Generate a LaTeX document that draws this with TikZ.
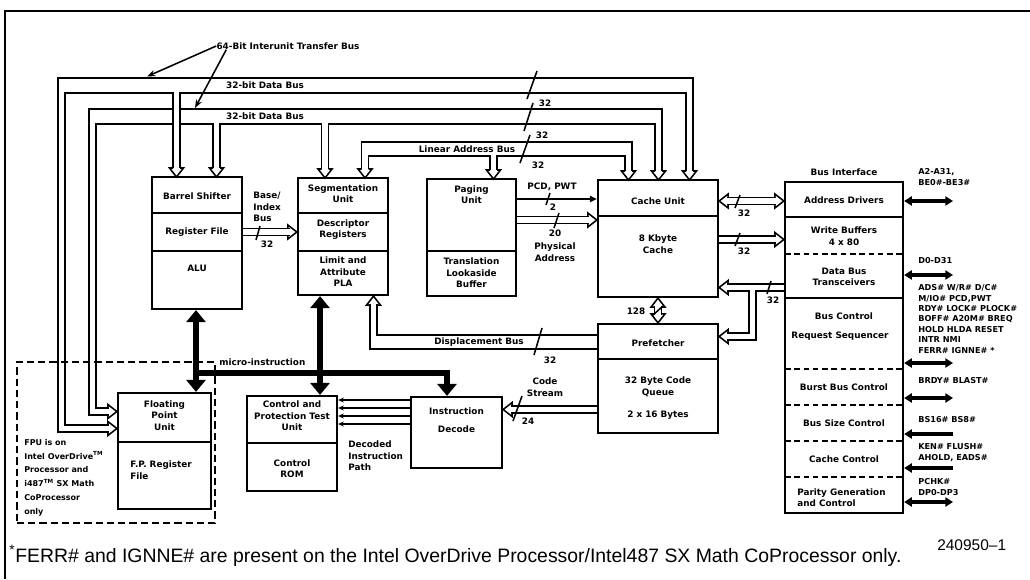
\documentclass[tikz,border=0pt]{standalone}
\usepackage{fontspec}
\setmainfont{Liberation Sans}
\newfontfamily\diagfont{DejaVu Sans}
\usetikzlibrary{arrows.meta,positioning,fit,calc}

\begin{document}
\begin{tikzpicture}[x=0.025cm,y=-0.025cm,
  unit/.style={draw,line width=1.6pt,inner sep=0pt},
  fpuzone/.style={draw,line width=1.5pt,inner sep=0pt,dash pattern=on 5pt off 3pt},
  divider/.style={line width=1.6pt},
  seam/.style={line width=1.3pt,dash pattern=on 4pt off 2.6pt},
  lbl/.style={font=\diagfont\bfseries\fontsize{6.3}{8.2}\selectfont,align=center,inner sep=0pt},
  note/.style={font=\diagfont\bfseries\fontsize{5.7}{9.8}\selectfont,align=left,inner sep=0pt,anchor=west},
  pin/.style={font=\diagfont\bfseries\fontsize{5.8}{7.4}\selectfont,align=left,inner sep=0pt,anchor=west},
  busline/.style={line width=1.1pt},
  hbus/.style={line width=1.1pt,double,double distance=3.86pt},
  htip/.pic={\draw[busline,line join=miter] (-3.5,-9) -- (-7,-9) -- (0,0) -- (7,-9) -- (3.5,-9);},
  sig/.style={line width=1.1pt},
  ubus/.style={line width=4.6pt},
  utip/.tip={Triangle[length=8.5pt,width=13.5pt]},
  pinarrow/.style={line width=2.2pt},
  ptip/.tip={Triangle[length=5.5pt,width=6.5pt]}
]
\useasboundingbox (0,0) rectangle (1030,579);
\draw[line width=1.2pt] (5,579) -- (5,11) -- (1030,11);

% functional units
\node[unit,fit={(152,177)(242,309)}] (alu) {};
\node[unit,fit={(298,178)(388,295)}] (seg) {};
\node[unit,fit={(427,179)(516,296)}] (paging) {};
\node[unit,fit={(598,180)(718,297)}] (cache) {};
\node[unit,fit={(598,324)(718,433)}] (prefetch) {};
\node[unit,fit={(785,182)(903,513)}] (biu) {};
\node[unit,fit={(118,393)(211,509)}] (fpu) {};
\node[unit,fit={(247,396)(337,491)}] (cpt) {};
\node[unit,fit={(411,397)(502,468)}] (decode) {};
\node[fpuzone,fit={(17,362)(215,523)}] (fpuarea) {};

\draw[divider] (152,213) -- (242,213) (152,251) -- (242,251);
\draw[divider] (298,213) -- (388,213) (298,251) -- (388,251);
\draw[divider] (427,251) -- (516,251);
\draw[divider] (598,216) -- (718,216);
\draw[divider] (598,359) -- (718,359);
\draw[divider] (118,442) -- (211,442);
\draw[divider] (247,443) -- (337,443);
\draw[divider] (785,217) -- (903,217) (785,298) -- (903,298);
\foreach \y in {254,369,405,441,477}
  \draw[seam] (785,\y) -- (903,\y);

% unit texts
\node[lbl] (shiftertxt) at (197,196) {Barrel Shifter};
\node[lbl] (regtxt) at (197,232) {Register File};
\node[lbl] (alutxt) at (197,268) {ALU};
\node[lbl] (segtxt) at (343,193.5) {Segmentation\\Unit};
\node[lbl] (desctxt) at (343,229.5) {Descriptor\\Registers};
\node[lbl] (platxt) at (343,272) {Limit and\\Attribute\\PLA};
\node[lbl] (pagingtxt) at (471.5,194.5) {Paging\\Unit};
\node[lbl] (tlbtxt) at (471.5,273) {Translation\\Lookaside\\Buffer};
\node[lbl] (cachetxt) at (658,201) {Cache Unit};
\node[lbl] (kbytetxt) at (658,244) {8 Kbyte\\Cache};
\node[lbl] (prefetchtxt) at (658,343) {Prefetcher};
\node[lbl] (queuetxt) at (658,387) {32 Byte Code\\Queue};
\node[lbl] (bytestxt) at (658,415) {2 x 16 Bytes};
\node[lbl] (biutxt) at (844,172) {Bus Interface};
\node[lbl] (addrtxt) at (844,200) {Address Drivers};
\node[lbl] (wrbuftxt) at (844,236) {Write Buffers\\4 x 80};
\node[lbl] (transtxt) at (844,277) {Data Bus\\Transceivers};
\node[lbl] (busctltxt) at (844,316) {Bus Control};
\node[lbl] (seqtxt) at (840,336) {Request Sequencer};
\node[lbl] (bursttxt) at (844,387) {Burst Bus Control};
\node[lbl] (sizetxt) at (844,423) {Bus Size Control};
\node[lbl] (cachectltxt) at (844,459) {Cache Control};
\node[lbl,align=left,anchor=west] (paritytxt) at (797,497.5) {Parity Generation\\and Control};
\node[lbl] (fputxt) at (164.5,415.5) {Floating\\Point\\Unit};
\node[lbl,align=left,anchor=west] (fpregtxt) at (130,470) {F.P. Register\\File};
\node[lbl] (cpttxt) at (292,416) {Control and\\Protection Test\\Unit};
\node[lbl] (romtxt) at (292,468.5) {Control\\ROM};
\node[lbl] (instrtxt) at (456.5,411) {Instruction};
\node[lbl] (decodetxt) at (456.5,429) {Decode};
\node[note] (fpunote) at (24,477.5) {FPU is on\\Intel OverDrive\textsuperscript{TM}\\Processor and\\i487\textsuperscript{TM} SX Math\\CoProcessor\\only};

% 64-bit interunit transfer bus (two 32-bit data buses)
\draw[busline] (109,432) -- (58,432) -- (58,78) -- (693,78) -- (693,171);
\draw[busline] (109,425) -- (65,425) -- (65,93) -- (686,93) -- (686,171);
\draw[busline] (109,415) -- (89,415) -- (89,109) -- (662,109) -- (662,171);
\draw[busline] (109,408) -- (96,408) -- (96,124) -- (655,124) -- (655,171);
% linear address bus
\draw[busline] (361.5,169) -- (361.5,142) -- (632,142) -- (632,171);
\draw[busline] (368.5,169) -- (368.5,156) -- (625,156) -- (625,171);
\draw[hbus] (176.5,92.2) -- (176.5,168);
\draw[hbus] (216.5,123.2) -- (216.5,168);
\draw[hbus] (325,123.2) -- (325,169);
\draw[hbus] (493.5,155.2) -- (493.5,170);
\foreach \x/\y in {176.5/177,216.5/177,325/178,365/178,493.5/179,628.5/180,658.5/180,689.5/180}
  \pic at (\x,\y) {htip};
\pic[rotate=90] at (fpu.west |- 0,428.5) {htip};
\pic[rotate=90] at (fpu.west |- 0,411.5) {htip};

\node[lbl] (bus64) at (288,46) {64-Bit Interunit Transfer Bus};
\draw[sig,-{Stealth[length=6pt,width=4.5pt]}] (bus64.west) -- (147,76.5);
\draw[sig,-{Stealth[length=6pt,width=4.5pt]}] ($(bus64.south west)+(10,0)$) -- (195,108);
\node[lbl] (databus1) at (265,85.5) {32-bit Data Bus};
\node[lbl] (databus2) at (265,116.5) {32-bit Data Bus};
\node[lbl] (linbus) at (467,149) {Linear Address Bus};
\draw[sig] (537,71) -- (527,99) (533,103) -- (524,131) (530,135) -- (520,163);
\node[lbl] at (545,103) {32};
\node[lbl] at (542,135) {32};
\node[lbl] at (538,165) {32};

% base/index bus
\draw[hbus] (alu.east |- regtxt) -- ++(47,0);
\pic[rotate=90] at (seg.west |- regtxt) {htip};
\draw[sig] (260,226) -- (256,240);
\node[lbl] at (267,244) {32};
\node[lbl,align=left,anchor=west] (basetxt) at (253,207) {Base/\\Index\\Bus};

% paging to cache
\draw[sig,-{Triangle[length=5pt,width=4.5pt]}] (paging.east |- 0,199) -- (cache.west |- 0,199);
\draw[sig] (550,193) -- (546,205);
\node[lbl] at (553,207) {2};
\node[lbl] (pcdtxt) at (552,187) {PCD, PWT};
\draw[hbus] (paging.east |- 0,220) -- (589,220);
\pic[rotate=90] at (cache.west |- 0,220) {htip};
\draw[sig] (559,213) -- (554,228);
\node[lbl] at (555,233) {20};
\node[lbl] (phystxt) at (555,252) {Physical\\Address};

% cache to bus interface
\draw[hbus] (727,201) -- (776,201);
\pic[rotate=-90] at (cache.east |- 0,201) {htip};
\pic[rotate=90] at (biu.west |- 0,201) {htip};
\draw[hbus] (cache.east |- 0,239.5) -- (776,239.5);
\pic[rotate=90] at (biu.west |- 0,239.5) {htip};
\draw[sig] (740,195) -- (735,208) (740,233) -- (735,246);
\node[lbl] at (744,213) {32};
\node[lbl] at (744,251) {32};

% data bus transceivers to cache and prefetcher
\draw[busline] (785,284) -- (727,284);
\draw[busline] (727,291) -- (749,291) -- (749,333) -- (727,333);
\draw[busline] (785,291) -- (756,291) -- (756,340) -- (727,340);
\pic[rotate=-90] at (cache.east |- 0,287.5) {htip};
\pic[rotate=-90] at (prefetch.east |- 0,336.5) {htip};
\draw[sig] (771,281) -- (767,294);
\node[lbl] at (773,300) {32};

% cache to prefetcher
\draw[hbus] (658,306) -- (658,315);
\pic[rotate=180] at (cache.south) {htip};
\pic at (prefetch.north) {htip};
\draw[sig] (663,306) -- (653,315);
\node[lbl] at (636,311) {128};

% displacement bus
\draw[busline] (598,335) -- (377,335) -- (377,304);
\draw[busline] (598,349) -- (370,349) -- (370,304);
\pic[rotate=180] at (seg.south -| 373.5,0) {htip};
\draw[sig] (542,328) -- (534,355);
\node[lbl] (disptxt) at (479,342) {Displacement Bus};
\node[lbl] at (550,360) {32};

% code stream
\draw[hbus] (prefetch.west |- 0,409.5) -- (511,409.5);
\pic[rotate=-90] at (decode.east |- 0,409.5) {htip};
\draw[sig] (522,396) -- (513,421);
\node[lbl] at (528,421) {24};
\node[lbl] (codetxt) at (545,387) {Code\\Stream};

% decoded instruction path
\foreach \y in {400,408,416,424}
  \draw[sig,-{Stealth[length=4pt,width=3.5pt]}] (decode.west |- 0,\y) -- (cpt.east |- 0,\y);
\node[lbl,align=left,anchor=west] (pathtxt) at (348,456) {Decoded\\Instruction\\Path};

% micro-instruction bus
\draw[ubus,{utip}-{utip}] (alu.south -| 196,0) -- (fpu.north -| 196,0);
\draw[ubus,{utip}-{utip}] (seg.south -| 320,0) -- (cpt.north -| 320,0);
\draw[ubus,-{utip}] (196,373) -- (447,373) -- (decode.north -| 447,0);
\node[lbl,anchor=west] (microtxt) at (219,362) {micro-instruction};

% external pins
\foreach \y in {201,275,363,398,502}
  \draw[pinarrow,{ptip}-{ptip}] (biu.east |- 0,\y) -- (953,\y);
\foreach \y in {434,468}
  \draw[pinarrow,{ptip}-] (biu.east |- 0,\y) -- (953,\y);
\node[pin] (addrpins) at (918,177) {A2-A31,\\BE0\#-BE3\#};
\node[pin] (datapins) at (918,261) {D0-D31};
\node[pin] (ctlpins) at (918,319) {ADS\# W/R\# D/C\#\\M/IO\# PCD,PWT\\RDY\# LOCK\# PLOCK\#\\BOFF\# A20M\# BREQ\\HOLD HLDA RESET\\INTR NMI\\FERR\# IGNNE\# *};
\node[pin] (burstpins) at (918,381) {BRDY\# BLAST\#};
\node[pin] (sizepins) at (918,420) {BS16\# BS8\#};
\node[pin] (cachepins) at (918,452.5) {KEN\# FLUSH\#\\AHOLD, EADS\#};
\node[pin] (paritypins) at (918,487) {PCHK\#\\DP0-DP3};

% footnote
\node[anchor=west,inner sep=0pt,font=\fontsize{11}{13}\selectfont] (figno) at (937,545) {240950--1};
\node[anchor=west,inner sep=0pt,font=\fontsize{13.8}{15}\selectfont] (footnote) at (9,556) {\textsuperscript{*}FERR\# and IGNNE\# are present on the Intel OverDrive Processor/Intel487 SX Math CoProcessor only.};
\end{tikzpicture}
\end{document}
